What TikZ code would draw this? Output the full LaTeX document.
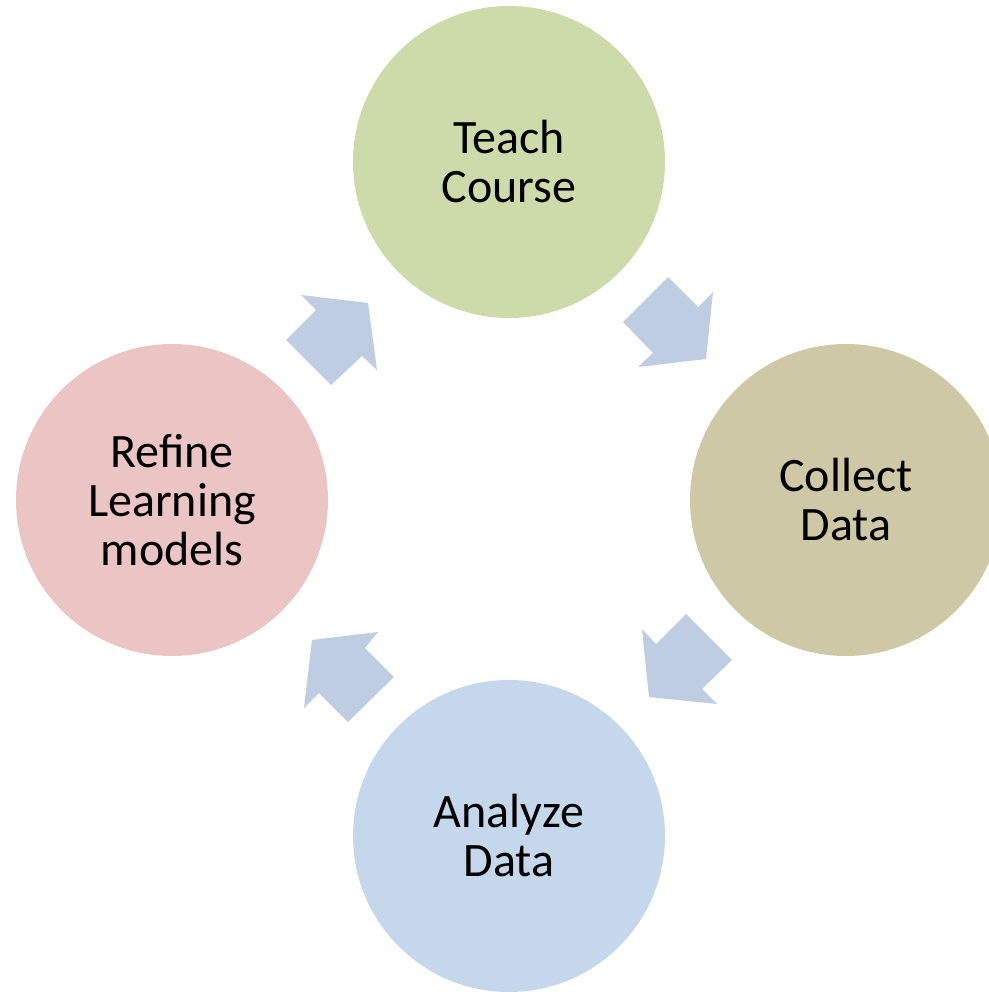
\documentclass[tikz,border=0pt]{standalone}
\usepackage{fontspec}
\setmainfont{Carlito}
\definecolor{cgreen}{HTML}{CDDBAB}
\definecolor{ctan}{HTML}{CFC8A6}
\definecolor{cblue}{HTML}{C5D7EA}
\definecolor{cpink}{HTML}{EBC4C4}
\definecolor{carrow}{HTML}{BFCDE2}
\begin{document}
\begin{tikzpicture}[x=1pt,y=-1pt,
  stage/.style={circle,minimum size=312pt,inner sep=0pt,align=center,
    font=\fontsize{48}{49}\selectfont,text=black},
  blockarrow/.style={fill=carrow,draw=none}]
\useasboundingbox (0,0) rectangle (988,992);
\node[stage,fill=cgreen] (teach) at (509,162) {Teach\\Course};
\node[stage,fill=ctan] (collect) at (846,500) {Collect\\Data};
\node[stage,fill=cblue] (analyze) at (509,836) {Analyze\\Data};
\node[stage,fill=cpink] (refine) at (172,500) {Refine\\Learning\\models};
% block arrows
\fill[blockarrow] (331,385) -- (286,340) -- (316,310) -- (301,295) -- (368,303) -- (377,370) -- (362,356) -- cycle;
\fill[blockarrow] (623,322) -- (668,277) -- (698,307) -- (713,292) -- (706,359) -- (638,367) -- (653,353) -- cycle;
\fill[blockarrow] (686,614) -- (732,660) -- (702,689) -- (717,704) -- (649,697) -- (642,629) -- (656,644) -- cycle;
\fill[blockarrow] (394,677) -- (348,722) -- (319,693) -- (304,708) -- (312,640) -- (378,632) -- (365,648) -- cycle;
\end{tikzpicture}
\end{document}
